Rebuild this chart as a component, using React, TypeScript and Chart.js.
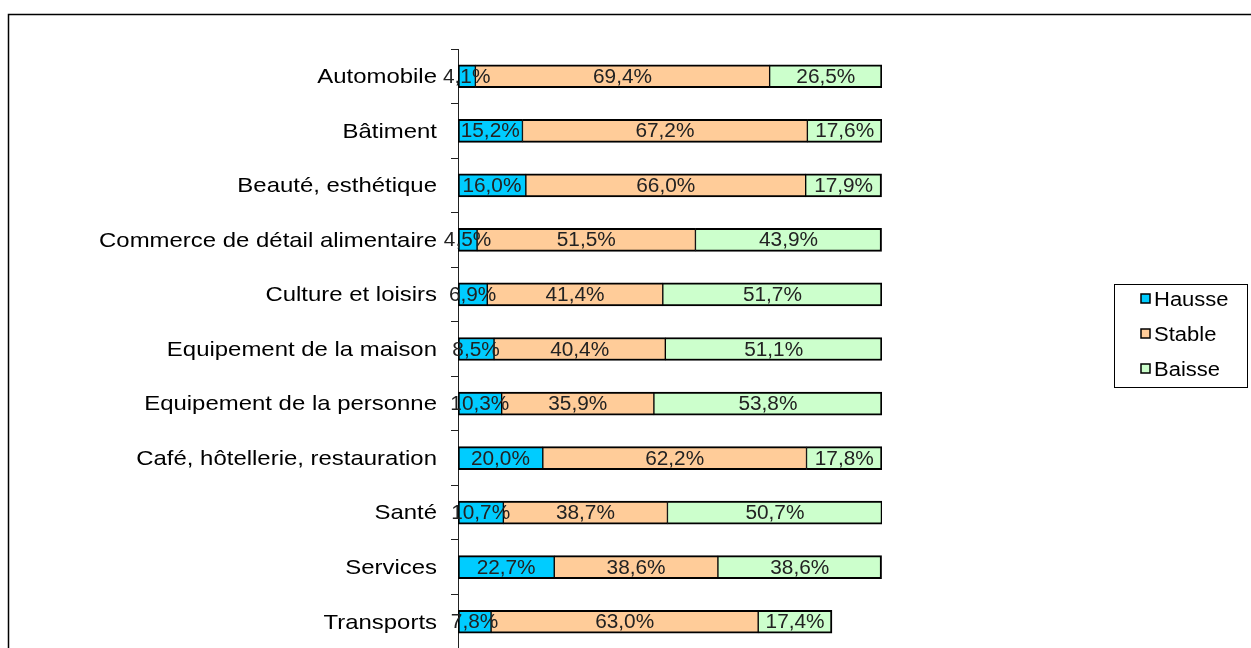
import React, { useEffect, useRef } from "react";
import { Chart, registerables } from "chart.js";

Chart.register(...registerables);

const categories = [
  "Automobile",
  "Bâtiment",
  "Beauté, esthétique",
  "Commerce de détail alimentaire",
  "Culture et loisirs",
  "Equipement de la maison",
  "Equipement de la personne",
  "Café, hôtellerie, restauration",
  "Santé",
  "Services",
  "Transports",
];
const hausse = [4.1, 15.2, 16.0, 4.5, 6.9, 8.5, 10.3, 20.0, 10.7, 22.7, 7.8];
const stable = [69.4, 67.2, 66.0, 51.5, 41.4, 40.4, 35.9, 62.2, 38.7, 38.6, 63.0];
const baisse = [26.5, 17.6, 17.9, 43.9, 51.7, 51.1, 53.8, 17.8, 50.7, 38.6, 17.4];
const seriesNames = ["Hausse", "Stable", "Baisse"];
const seriesColors = ["#00CCFF", "#FFCC99", "#CCFFCC"];

const W = 1251;
const H = 700;

function drawText(
  ctx: CanvasRenderingContext2D,
  text: string,
  x: number,
  y: number,
  align: CanvasTextAlign,
  font: string,
  sx: number,
  color: string
) {
  ctx.save();
  ctx.font = font;
  ctx.fillStyle = color;
  ctx.textBaseline = "middle";
  ctx.textAlign = align;
  ctx.translate(x, y);
  ctx.scale(sx, 1);
  ctx.fillText(text, 0, 0);
  ctx.restore();
}

const fmt = (v: number) => v.toFixed(1).replace(".", ",") + "%";

const decorPlugin = {
  id: "decor",
  beforeDraw(chart: any) {
    const ctx = chart.ctx as CanvasRenderingContext2D;
    ctx.save();
    ctx.fillStyle = "#fff";
    ctx.fillRect(0, 0, chart.width, chart.height);
    ctx.strokeStyle = "#000";
    ctx.lineWidth = 1.5;
    ctx.strokeRect(8.5, 14.5, 1400, 900);
    ctx.restore();
  },
  afterDatasetsDraw(chart: any) {
    const ctx = chart.ctx as CanvasRenderingContext2D;
    // data labels
    chart.data.datasets.forEach((ds: any, i: number) => {
      const meta = chart.getDatasetMeta(i);
      meta.data.forEach((el: any, j: number) => {
        const v = ds.data[j];
        const cx = (el.x + el.base) / 2;
        drawText(ctx, fmt(v), cx, el.y + 1, "center", "20px 'Liberation Sans', Arial, sans-serif", 1.04, "#222");
      });
    });
    // category labels
    const yScale = chart.scales.y;
    categories.forEach((c, j) => {
      const y = yScale.getPixelForValue(j);
      drawText(ctx, c, 437, y + 1, "right", "21px 'Liberation Sans', Arial, sans-serif", 1.14, "#000");
    });
    // legend
    ctx.save();
    ctx.strokeStyle = "#000";
    ctx.lineWidth = 1;
    ctx.strokeRect(1114.5, 284.5, 133, 103);
    seriesNames.forEach((n, i) => {
      const y = 299 + i * 35;
      ctx.fillStyle = seriesColors[i];
      ctx.fillRect(1141, y - 5, 9, 9);
      ctx.strokeStyle = "#000";
      ctx.lineWidth = 1.5;
      ctx.strokeRect(1141, y - 5, 9, 9);
      drawText(ctx, n, 1154, y + 1, "left", "20px 'Liberation Sans', Arial, sans-serif", 1.1, "#000");
    });
    ctx.restore();
  },
};

export default function App() {
  const ref = useRef<HTMLCanvasElement | null>(null);
  useEffect(() => {
    if (!ref.current) return;
    const values = [hausse, stable, baisse];
    const borders = [
      { top: 2, bottom: 2, left: 2, right: 1 },
      { top: 2, bottom: 2, left: 1, right: 1 },
      { top: 2, bottom: 2, left: 1, right: 2 },
    ];
    const chart = new Chart(ref.current, {
      type: "bar",
      data: {
        labels: categories,
        datasets: seriesNames.map((n, i) => ({
          label: n,
          data: values[i],
          backgroundColor: seriesColors[i],
          borderColor: "#000",
          borderWidth: borders[i] as any,
          borderSkipped: false as any,
          barThickness: 23,
        })),
      },
      options: {
        indexAxis: "y",
        responsive: false,
        animation: false,
        layout: { padding: { left: 0, top: 49, right: W - 882, bottom: H - 649 } },
        plugins: { legend: { display: false }, tooltip: { enabled: false } },
        scales: {
          x: { stacked: true, min: 0, max: 100, display: false },
          y: {
            stacked: true,
            offset: true,
            grid: {
              display: true,
              drawOnChartArea: false,
              offset: true,
              tickLength: 7,
              color: "#222",
              lineWidth: 1,
            },
            border: { display: true, color: "#222", width: 1 },
            ticks: { display: false },
            afterFit: (scale: any) => {
              scale.width = 458;
            },
          },
        },
      } as any,
      plugins: [decorPlugin],
    });
    return () => chart.destroy();
  }, []);
  return (
    <div style={{ position: "absolute", left: 0, top: 0, width: W, height: 648, overflow: "hidden", background: "#fff" }}>
      <canvas ref={ref} width={W} height={H} style={{ width: W, height: H, display: "block" }} />
    </div>
  );
}
